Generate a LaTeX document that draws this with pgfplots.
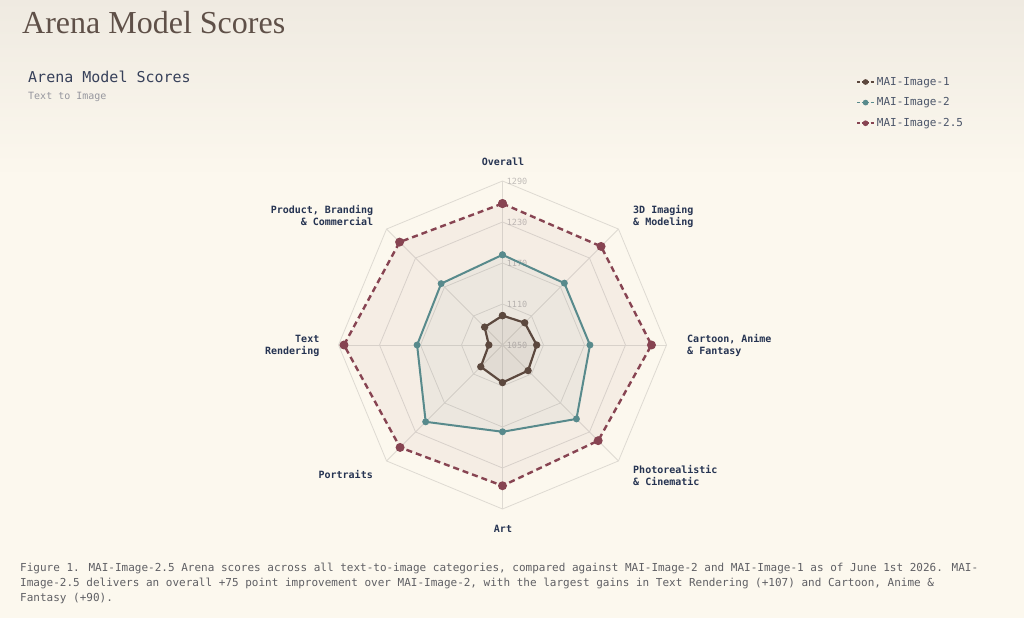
\documentclass[border=0pt]{standalone}
\usepackage{fontspec}
\setmainfont{Liberation Serif}
\newfontfamily\mono{DejaVu Sans Mono}
\usepackage{pgfplots}
\usepackage{pgfplotstable}
\pgfplotsset{compat=1.18}

\definecolor{bgtop}{RGB}{239,234,225}
\definecolor{bgbot}{RGB}{252,248,238}
\definecolor{gridc}{RGB}{222,218,210}
\definecolor{tickc}{RGB}{192,188,184}
\definecolor{cone}{RGB}{92,72,62}
\definecolor{ctwo}{RGB}{88,138,140}
\definecolor{cthree}{RGB}{135,68,82}
\definecolor{labc}{RGB}{38,52,82}
\definecolor{titlec}{RGB}{95,80,72}
\definecolor{subc}{RGB}{55,65,90}
\definecolor{sub2c}{RGB}{150,150,158}
\definecolor{legc}{RGB}{75,85,105}
\definecolor{capc}{RGB}{95,95,100}

% angle (deg) and score; first row repeated to close the polygon
\pgfplotstableread{
ang s
90 1093
45 1096
0 1100
-45 1103
-90 1105
-135 1095
180 1070
135 1087
90 1093
}\mione
\pgfplotstableread{
ang s
90 1182
45 1178
0 1178
-45 1203
-90 1177
-135 1209
180 1175
135 1177
90 1182
}\mitwo
\pgfplotstableread{
ang s
90 1257
45 1254
0 1268
-45 1248
-90 1256
-135 1262
180 1282
135 1263
90 1257
}\mithree

\begin{document}
\begin{tikzpicture}[x=1pt,y=1pt]
\useasboundingbox (0,0) rectangle (1024,618);
\fill[bgbot] (0,0) rectangle (1024,618);
\shade[top color=bgtop, bottom color=bgbot] (0,440) rectangle (1024,618.5);

\node[anchor=base west, inner sep=0, text=titlec, font=\fontsize{32}{38}\selectfont] at (22,584.5) {Arena Model Scores};
\node[anchor=base west, inner sep=0, text=subc, font=\mono\fontsize{15}{18}\selectfont] at (28,535.5) {Arena Model Scores};
\node[anchor=base west, inner sep=0, text=sub2c, font=\mono\fontsize{10}{12}\selectfont] at (28,518.5) {Text to Image};

\begin{axis}[at={(502.5pt,273pt)}, anchor=origin,
  x=0.6833pt, y=0.6833pt,
  xmin=-250, xmax=250, ymin=-250, ymax=250,
  hide axis, clip=false,
  legend style={at={(axis cs:513,398)}, anchor=north west, draw=none, fill=none,
    font=\mono\fontsize{11}{13}\selectfont, text=legc, row sep=7pt},
  legend cell align=left]

% grid rings
\addplot[gridc, line width=0.8pt, data cs=polar, forget plot] coordinates {(90,60)(45,60)(0,60)(-45,60)(-90,60)(-135,60)(180,60)(135,60)(90,60)};
\addplot[gridc, line width=0.8pt, data cs=polar, forget plot] coordinates {(90,120)(45,120)(0,120)(-45,120)(-90,120)(-135,120)(180,120)(135,120)(90,120)};
\addplot[gridc, line width=0.8pt, data cs=polar, forget plot] coordinates {(90,180)(45,180)(0,180)(-45,180)(-90,180)(-135,180)(180,180)(135,180)(90,180)};
\addplot[gridc, line width=0.8pt, data cs=polar, forget plot] coordinates {(90,240)(45,240)(0,240)(-45,240)(-90,240)(-135,240)(180,240)(135,240)(90,240)};
% spokes
\addplot[gridc, line width=0.8pt, data cs=polar, forget plot] coordinates {(90,0)(90,240)};
\addplot[gridc, line width=0.8pt, data cs=polar, forget plot] coordinates {(45,0)(45,240)};
\addplot[gridc, line width=0.8pt, data cs=polar, forget plot] coordinates {(0,0)(0,240)};
\addplot[gridc, line width=0.8pt, data cs=polar, forget plot] coordinates {(-45,0)(-45,240)};
\addplot[gridc, line width=0.8pt, data cs=polar, forget plot] coordinates {(-90,0)(-90,240)};
\addplot[gridc, line width=0.8pt, data cs=polar, forget plot] coordinates {(-135,0)(-135,240)};
\addplot[gridc, line width=0.8pt, data cs=polar, forget plot] coordinates {(180,0)(180,240)};
\addplot[gridc, line width=0.8pt, data cs=polar, forget plot] coordinates {(135,0)(135,240)};

% tick labels
\foreach \r/\t in {0/1050,60/1110,120/1170,180/1230,240/1290}{
  \edef\tmp{\noexpand\node[anchor=west, inner sep=0, text=tickc, font=\noexpand\mono\noexpand\fontsize{8.5}{10}\noexpand\selectfont] at (axis cs:6,\r) {\t};}
  \tmp
}

% series
\addplot[cthree, line width=2.4pt, dash pattern=on 6pt off 4pt, fill=cthree, fill opacity=0.06,
  mark=*, mark size=3.2pt, mark options={solid, fill=cthree, fill opacity=1},
  data cs=polar, forget plot] table[x=ang, y expr=\thisrow{s}-1050] {\mithree};
\addplot[ctwo, line width=2pt, fill=ctwo, fill opacity=0.05,
  mark=*, mark size=2.4pt, mark options={solid, fill=ctwo, fill opacity=1},
  data cs=polar, forget plot] table[x=ang, y expr=\thisrow{s}-1050] {\mitwo};
\addplot[cone, line width=2.2pt, fill=cone, fill opacity=0.07,
  mark=*, mark size=2.5pt, mark options={solid, fill=cone, fill opacity=1},
  data cs=polar, forget plot] table[x=ang, y expr=\thisrow{s}-1050] {\mione};

\addlegendimage{cone, line width=1.6pt, dash pattern=on 3pt off 1.5pt, mark=*, mark size=2pt, mark options={solid}}
\addlegendentry{MAI-Image-1}
\addlegendimage{ctwo, line width=1.6pt, dash pattern=on 3pt off 1.5pt, mark=*, mark size=2pt, mark options={solid}}
\addlegendentry{MAI-Image-2}
\addlegendimage{cthree, line width=1.6pt, dash pattern=on 3pt off 1.5pt, mark=*, mark size=2pt, mark options={solid}}
\addlegendentry{MAI-Image-2.5}
\end{axis}

% category labels
\tikzset{cat/.style={inner sep=0, text=labc, font=\mono\bfseries\fontsize{10}{12}\selectfont}}
\node[cat, anchor=base] at (503,452.3) {Overall};
\node[cat, anchor=base west] at (633,404.7) {3D Imaging};
\node[cat, anchor=base west] at (633,392.7) {\& Modeling};
\node[cat, anchor=base west] at (687,275.3) {Cartoon, Anime};
\node[cat, anchor=base west] at (687,263.3) {\& Fantasy};
\node[cat, anchor=base west] at (633,144.3) {Photorealistic};
\node[cat, anchor=base west] at (633,132.3) {\& Cinematic};
\node[cat, anchor=base] at (503,85) {Art};
\node[cat, anchor=base east] at (373,139) {Portraits};
\node[cat, anchor=base east] at (319.5,275.3) {Text};
\node[cat, anchor=base east] at (319.5,263.3) {Rendering};
\node[cat, anchor=base east] at (373.3,404.7) {Product, Branding};
\node[cat, anchor=base east] at (373.3,392.7) {\& Commercial};

% caption
\node[anchor=north west, inner sep=0, align=left, text=capc, font=\mono\fontsize{11}{15}\selectfont] at (20,55) {Figure 1. MAI-Image-2.5 Arena scores across all text-to-image categories, compared against MAI-Image-2 and MAI-Image-1 as of June 1st 2026. MAI-\\Image-2.5 delivers an overall +75 point improvement over MAI-Image-2, with the largest gains in Text Rendering (+107) and Cartoon, Anime \&\\Fantasy (+90).};
\end{tikzpicture}
\end{document}
